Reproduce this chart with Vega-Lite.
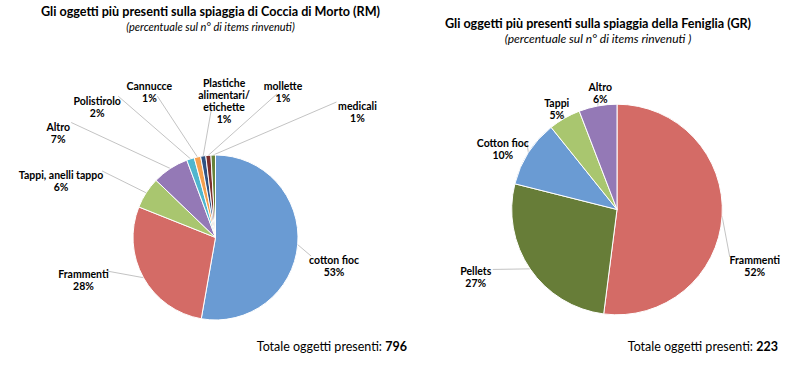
{
  "$schema": "https://vega.github.io/schema/vega-lite/v6.json",
  "padding": {"left": 0, "right": 0, "top": 6, "bottom": 0},
  "background": "white",
  "bounds": "flush",
  "spacing": 7,
  "resolve": {"scale": {"color": "independent"}},
  "config": {
    "view": {"stroke": null},
    "font": "Lato",
    "title": {"fontSize": 12.6, "fontWeight": "bold", "color": "black", "subtitleFontSize": 11, "subtitleFontStyle": "italic", "subtitleColor": "black", "subtitlePadding": 3, "anchor": "middle", "font": "Lato", "subtitleFont": "Lato"},
    "text": {"font": "Lato", "color": "black"}
  },
  "hconcat": [
    {
      "name": "pieL",
      "width": 431,
      "height": 259,
      "title": {"text": "Gli oggetti più presenti sulla spiaggia di Coccia di Morto (RM)", "subtitle": "(percentuale sul n° di items rinvenuti)", "offset": 46, "dx": -5},
      "layer": [
        {
          "data": {"values": [
            {"ord": 1, "cat": "cotton fioc", "n": 420, "label": "cotton fioc\n53%"},
            {"ord": 2, "cat": "Frammenti", "n": 225, "label": "Frammenti\n28%"},
            {"ord": 3, "cat": "Tappi, anelli tappo", "n": 49, "label": "Tappi, anelli tappo\n6%"},
            {"ord": 4, "cat": "Altro", "n": 57, "label": "Altro\n7%"},
            {"ord": 5, "cat": "Polistirolo", "n": 12, "label": "Polistirolo\n2%"},
            {"ord": 6, "cat": "Cannucce", "n": 10, "label": "Cannucce\n1%"},
            {"ord": 7, "cat": "Plastiche alimentari/etichette", "n": 8, "label": "Plastiche\nalimentari/\netichette\n1%"},
            {"ord": 8, "cat": "mollette", "n": 8, "label": "mollette\n1%"},
            {"ord": 9, "cat": "medicali", "n": 7, "label": "medicali\n1%"}
          ]},
          "layer": [
            {
              "transform": [
                {"joinaggregate": [{"op": "sum", "field": "n", "as": "tot"}]},
                {"stack": "n", "groupby": [], "sort": [{"field": "ord", "order": "ascending"}], "as": ["s0", "s1"]}
              ],
              "mark": {"type": "rule", "color": "#B4B4B4", "strokeWidth": 0.8},
              "encoding": {
                "x": {"value": {"expr": "pieL_width/2 + 82.5*sin(PI*(datum.s0+datum.s1)/datum.tot)"}},
                "y": {"value": {"expr": "pieL_height/2 - 82.5*cos(PI*(datum.s0+datum.s1)/datum.tot)"}},
                "x2": {"value": {"expr": "pieL_width/2 + 110*sin(PI*(datum.s0+datum.s1)/datum.tot) + (datum.ord == 1 ? -14 : datum.ord == 2 ? -12 : datum.ord == 3 ? -21 : datum.ord == 4 ? -84 : datum.ord == 5 ? -64 : datum.ord == 6 ? -34 : datum.ord == 7 ? 13 : datum.ord == 8 ? 71 : 124)"}},
                "y2": {"value": {"expr": "pieL_height/2 - 110*cos(PI*(datum.s0+datum.s1)/datum.tot) + (datum.ord == 1 ? 9 : datum.ord == 2 ? -20 : datum.ord == 3 ? -7 : datum.ord == 4 ? -23 : datum.ord == 5 ? -36.5 : datum.ord == 6 ? -34 : datum.ord == 7 ? -23.5 : datum.ord == 8 ? -34 : -25.5)"}}
              }
            },
            {
              "mark": {"type": "arc", "radius": 82.5, "stroke": "white", "strokeWidth": 1},
              "encoding": {
                "theta": {"field": "n", "type": "quantitative", "stack": true},
                "order": {"field": "ord", "type": "quantitative"},
                "color": {"field": "cat", "type": "nominal", "legend": null,
                  "scale": {"domain": ["cotton fioc", "Frammenti", "Tappi, anelli tappo", "Altro", "Polistirolo", "Cannucce", "Plastiche alimentari/etichette", "mollette", "medicali"],
                            "range": ["#6A9BD3", "#D46B66", "#A9C66F", "#9479B6", "#4FB6CF", "#F5A04F", "#2F5282", "#7C2F2D", "#67833A"]}}
              }
            },
            {
              "mark": {"type": "text", "radius": 110, "fontSize": 10.5, "fontWeight": "bold", "lineBreak": "\n", "lineHeight": 12, "align": "center", "baseline": "middle",
                "dx": {"expr": "datum.ord == 1 ? 9 : datum.ord == 2 ? -36 : datum.ord == 3 ? -62 : datum.ord == 4 ? -97 : datum.ord == 5 ? -85 : datum.ord == 6 ? -42 : datum.ord == 7 ? 25 : datum.ord == 8 ? 77 : 145"},
                "dy": {"expr": "datum.ord == 1 ? 14 : datum.ord == 2 ? -16 : datum.ord == 3 ? -2 : datum.ord == 4 ? -17 : datum.ord == 5 ? -31 : datum.ord == 6 ? -43 : datum.ord == 7 ? -45 : datum.ord == 8 ? -41 : -21"}},
              "encoding": {
                "theta": {"field": "n", "type": "quantitative", "stack": true},
                "order": {"field": "ord", "type": "quantitative"},
                "text": {"field": "label", "type": "nominal"}
              }
            }
          ]
        },
        {
          "data": {"values": [{"total": 796}]},
          "layer": [
            {"mark": {"type": "text", "text": "Totale oggetti presenti:", "fontSize": 12.5, "align": "right", "baseline": "middle", "x": "width", "y": "height", "dx": -49, "dy": -20}, "encoding": {}},
            {"mark": {"type": "text", "fontSize": 12.5, "fontWeight": "bold", "align": "right", "baseline": "middle", "x": "width", "y": "height", "dx": -24, "dy": -20}, "encoding": {"text": {"field": "total", "type": "nominal"}}}
          ]
        }
      ]
    },
    {
      "name": "pieR",
      "width": 358,
      "height": 203,
      "title": {"text": "Gli oggetti più presenti sulla spiaggia della Feniglia (GR)", "subtitle": "(percentuale sul n° di items rinvenuti )", "subtitleFontSize": 12, "offset": 38, "dx": -19},
      "layer": [
        {
          "data": {"values": [
            {"ord": 1, "cat": "Frammenti", "n": 116, "label": "Frammenti\n52%"},
            {"ord": 2, "cat": "Pellets", "n": 60, "label": "Pellets\n27%"},
            {"ord": 3, "cat": "Cotton fioc", "n": 23, "label": "Cotton fioc\n10%"},
            {"ord": 4, "cat": "Tappi", "n": 11, "label": "Tappi\n5%"},
            {"ord": 5, "cat": "Altro", "n": 13, "label": "Altro\n6%"}
          ]},
          "layer": [
            {
              "transform": [
                {"joinaggregate": [{"op": "sum", "field": "n", "as": "tot"}]},
                {"stack": "n", "groupby": [], "sort": [{"field": "ord", "order": "ascending"}], "as": ["s0", "s1"]}
              ],
              "mark": {"type": "rule", "color": "#B4B4B4", "strokeWidth": 0.8},
              "encoding": {
                "x": {"value": {"expr": "pieR_width/2 + 105.3*sin(PI*(datum.s0+datum.s1)/datum.tot)"}},
                "y": {"value": {"expr": "pieR_height/2 - 105.3*cos(PI*(datum.s0+datum.s1)/datum.tot)"}},
                "x2": {"value": {"expr": "pieR_width/2 + 125*sin(PI*(datum.s0+datum.s1)/datum.tot) + (datum.ord == 1 ? -12 : datum.ord == 2 ? -21 : datum.ord == 3 ? 15 : datum.ord == 4 ? 7 : 4)"}},
                "y2": {"value": {"expr": "pieR_height/2 - 125*cos(PI*(datum.s0+datum.s1)/datum.tot) + (datum.ord == 1 ? 39.5 : datum.ord == 2 ? -10.5 : datum.ord == 3 ? 0 : datum.ord == 4 ? 10 : 12.5)"}}
              }
            },
            {
              "mark": {"type": "arc", "radius": 105.3, "stroke": "white", "strokeWidth": 1},
              "encoding": {
                "theta": {"field": "n", "type": "quantitative", "stack": true},
                "order": {"field": "ord", "type": "quantitative"},
                "color": {"field": "cat", "type": "nominal", "legend": null,
                  "scale": {"domain": ["Frammenti", "Pellets", "Cotton fioc", "Tappi", "Altro"],
                            "range": ["#D46B66", "#677D38", "#6A9BD3", "#A9C66F", "#9479B6"]}}
              }
            },
            {
              "mark": {"type": "text", "radius": 125, "fontSize": 10.5, "fontWeight": "bold", "lineBreak": "\n", "lineHeight": 12, "align": "center", "baseline": "middle",
                "dx": {"expr": "datum.ord == 1 ? 13 : datum.ord == 2 ? -38 : datum.ord == 3 ? -9 : datum.ord == 4 ? 2 : 6"},
                "dy": {"expr": "datum.ord == 1 ? 44 : datum.ord == 2 ? -8 : datum.ord == 3 ? 2 : datum.ord == 4 ? 3 : 1"}},
              "encoding": {
                "theta": {"field": "n", "type": "quantitative", "stack": true},
                "order": {"field": "ord", "type": "quantitative"},
                "text": {"field": "label", "type": "nominal"}
              }
            }
          ]
        },
        {
          "data": {"values": [{"total": 223}]},
          "layer": [
            {"mark": {"type": "text", "text": "Totale oggetti presenti:", "fontSize": 12.5, "align": "right", "baseline": "middle", "x": "width", "y": "height", "dx": -43, "dy": 36}, "encoding": {}},
            {"mark": {"type": "text", "fontSize": 12.5, "fontWeight": "bold", "align": "right", "baseline": "middle", "x": "width", "y": "height", "dx": -18, "dy": 36}, "encoding": {"text": {"field": "total", "type": "nominal"}}}
          ]
        }
      ]
    }
  ]
}
